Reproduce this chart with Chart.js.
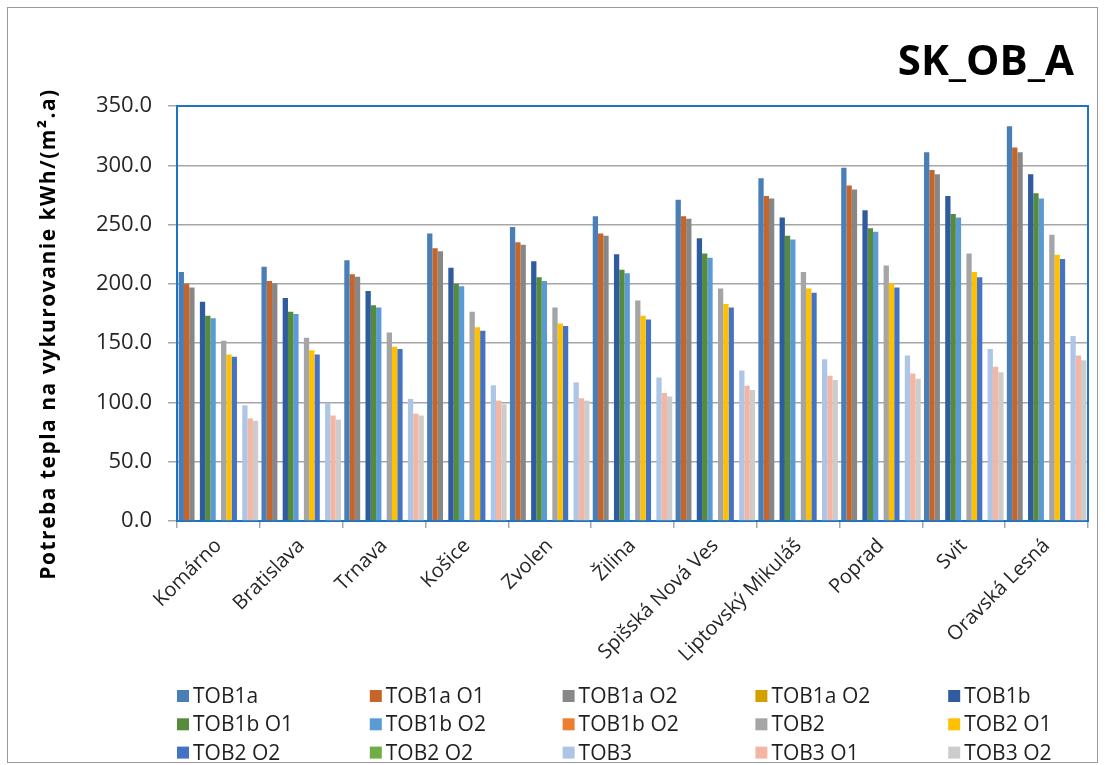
<!DOCTYPE html>
<html>
<head>
<meta charset="utf-8">
<script src="https://cdn.jsdelivr.net/npm/chart.js@4.4.1/dist/chart.umd.min.js"></script>
<style>
  html, body { margin: 0; padding: 0; background: #ffffff; }
  #wrap { position: relative; width: 1105px; height: 765px; }
</style>
</head>
<body>
<div id="wrap"><canvas id="c" width="1105" height="765"></canvas></div>
<script>
// ---- data ----
const categories = ["Komárno", "Bratislava", "Trnava", "Košice", "Zvolen", "Žilina",
  "Spišská Nová Ves", "Liptovský Mikuláš", "Poprad", "Svit", "Oravská Lesná"];

const tob1a    = [210, 214.5, 220, 242.5, 248, 257, 271, 289, 298, 311, 333];
const tob1aO1  = [200, 202.5, 208, 230, 235, 242.5, 257, 274, 283, 296, 315];
const tob1aO2  = [197, 200.5, 206, 227.5, 233, 240.5, 255, 272, 279.5, 292.5, 311];
const tob1aO2b = [null, null, null, null, null, null, null, null, null, null, null];
const tob1b    = [185, 188, 194, 213.5, 219, 225, 238.5, 256, 262, 274, 292.5];
const tob1bO1  = [173, 176.5, 182, 200, 205.5, 212, 225.5, 240.5, 247, 259, 276.5];
const tob1bO2  = [171, 174.5, 180, 198, 202.5, 209, 222, 237.5, 244, 256, 272];
const tob1bO2b = [null, null, null, null, null, null, null, null, null, null, null];
const tob2     = [152, 154.5, 159, 176.5, 180, 186, 196, 210, 215.5, 225.5, 241.5];
const tob2O1   = [140.5, 144, 147, 163.5, 166.5, 173, 183, 196, 200.5, 210, 224.5];
const tob2O2   = [138.5, 140.5, 145, 160.5, 164.5, 170, 180, 192.5, 197, 205.5, 221];
const tob2O2b  = [null, null, null, null, null, null, null, null, null, null, null];
const tob3     = [97.5, 99.5, 103, 114.5, 117, 121, 127, 136.5, 139.5, 145, 156];
const tob3O1   = [86.5, 89, 90.5, 101.5, 103.5, 108, 114, 122.5, 124.5, 130, 139.5];
const tob3O2   = [84.5, 85.5, 89, 98.5, 101.5, 105, 110.5, 119, 120, 125.5, 135.5];

const seriesLabels = ["TOB1a", "TOB1a O1", "TOB1a O2", "TOB1a O2", "TOB1b",
  "TOB1b O1", "TOB1b O2", "TOB1b O2", "TOB2", "TOB2 O1",
  "TOB2 O2", "TOB2 O2", "TOB3", "TOB3 O1", "TOB3 O2"];
const seriesData = [tob1a, tob1aO1, tob1aO2, tob1aO2b, tob1b,
  tob1bO1, tob1bO2, tob1bO2b, tob2, tob2O1,
  tob2O2, tob2O2b, tob3, tob3O1, tob3O2];
const seriesColors = ["#4A7EB6", "#C5652A", "#878787", "#D4A000", "#2F5B9F",
  "#568B3B", "#5B9BD5", "#ED7D31", "#A5A5A5", "#FFC000",
  "#4472C4", "#70AD47", "#AEC6E6", "#F4B6A2", "#CCCCCC"];

const yTicks = [0, 50, 100, 150, 200, 250, 300, 350];
const chartTitle = "SK_OB_A";
const yTitle = "Potreba tepla na vykurovanie kWh/(m².a)";

// ---- chart ----
Chart.defaults.font.family = "'Open Sans', 'DejaVu Sans', sans-serif";
Chart.defaults.color = "#262626";

const FONT = "'Open Sans', 'DejaVu Sans', sans-serif";

const decorPlugin = {
  id: 'decor',
  beforeDraw(chart) {
    const ctx = chart.ctx;
    ctx.save();
    ctx.fillStyle = '#ffffff';
    ctx.fillRect(0, 0, chart.width, chart.height);
    ctx.strokeStyle = '#9a9a9a';
    ctx.lineWidth = 1;
    ctx.strokeRect(7.5, 7.5, 1090, 755);
    ctx.restore();
  },
  beforeDatasetsDraw(chart) {
    const ctx = chart.ctx;
    const a = chart.chartArea;
    ctx.save();
    ctx.strokeStyle = '#1F74C2';
    ctx.lineWidth = 2;
    ctx.strokeRect(a.left, a.top, a.right - a.left, a.bottom - a.top);
    ctx.restore();
  },
  afterDraw(chart) {
    const ctx = chart.ctx;
    ctx.save();
    // main title
    ctx.fillStyle = '#000000';
    ctx.font = "bold 42px " + FONT;
    ctx.textAlign = 'right';
    ctx.textBaseline = 'alphabetic';
    ctx.fillText(chartTitle, 1074, 75);
    // y title
    ctx.save();
    ctx.translate(55, 334);
    ctx.rotate(-Math.PI / 2);
    ctx.font = "bold 21px " + FONT;
    const w = ctx.measureText(yTitle).width;
    const extra = Math.max(0, (490 - w) / (yTitle.length - 1));
    ctx.letterSpacing = extra.toFixed(2) + 'px';
    const w2 = ctx.measureText(yTitle).width;
    ctx.textAlign = 'left';
    ctx.textBaseline = 'alphabetic';
    ctx.fillStyle = '#000000';
    ctx.fillText(yTitle, -w2 / 2, 0);
    ctx.restore();
    // legend grid
    ctx.font = "21px " + FONT;
    ctx.textAlign = 'left';
    ctx.textBaseline = 'middle';
    chart.data.datasets.forEach((ds, i) => {
      const col = i % 5, row = Math.floor(i / 5);
      const x = 177 + col * 192.8;
      const y = 696 + row * 28.3;
      ctx.fillStyle = ds.backgroundColor;
      ctx.fillRect(x, y - 6, 12, 12);
      ctx.fillStyle = '#1f1f1f';
      ctx.fillText(ds.label, x + 16, y + 1);
    });
    ctx.restore();
  }
};

new Chart(document.getElementById('c'), {
  type: 'bar',
  data: {
    labels: categories,
    datasets: seriesLabels.map((lab, i) => ({
      label: lab,
      data: seriesData[i],
      backgroundColor: seriesColors[i],
      borderWidth: 0
    }))
  },
  options: {
    responsive: false,
    animation: false,
    devicePixelRatio: 1,
    layout: { padding: { left: 0, right: 17, top: 106, bottom: 94 } },
    datasets: { bar: { categoryPercentage: 0.96, barPercentage: 1.0 } },
    plugins: {
      legend: { display: false },
      title: { display: false },
      tooltip: { enabled: false }
    },
    scales: {
      x: {
        grid: { display: true, drawOnChartArea: false, drawTicks: true, tickLength: 7, color: '#a6a6a6', lineWidth: 1.5, offset: true },
        border: { display: false },
        ticks: { autoSkip: false, maxRotation: 45, minRotation: 45, padding: 6, font: { size: 20 }, color: '#262626' },
        afterFit(scale) { scale.height = 150; }
      },
      y: {
        min: 0, max: 350,
        afterBuildTicks(scale) { scale.ticks = yTicks.map(v => ({ value: v })); },
        grid: { color: '#a6a6a6', lineWidth: 1.5, tickLength: 9 },
        border: { display: false },
        ticks: { padding: 16, font: { size: 22 }, color: '#262626', callback: v => Number(v).toFixed(1) },
        afterFit(scale) { scale.width = 177; }
      }
    }
  },
  plugins: [decorPlugin]
});
</script>
</body>
</html>
